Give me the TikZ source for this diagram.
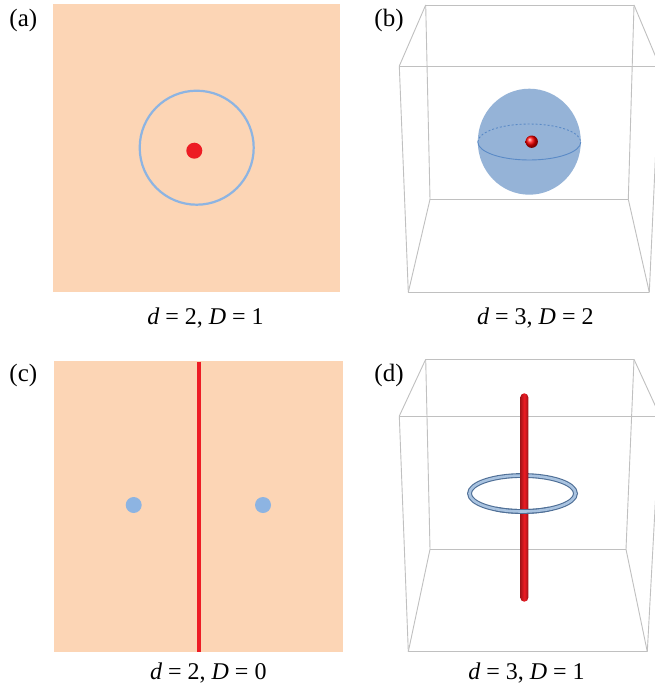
\documentclass[tikz,border=0pt]{standalone}
\usepackage{fontspec}
\setmainfont{Liberation Serif}
\usepackage{xcolor}
\usepackage{tikz}

\definecolor{peach}{HTML}{FCD5B5}
\definecolor{ringblue}{HTML}{8DB4E2}
\definecolor{sphereblue}{HTML}{95B3D7}
\definecolor{eqblue}{HTML}{5A8AC6}
\definecolor{dotred}{HTML}{ED1C24}
\definecolor{edgegray}{HTML}{C0C0C0}
\definecolor{ringdark}{HTML}{4F6F96}
\definecolor{ringlight}{HTML}{A9C3E0}

\begin{document}
\begin{tikzpicture}[x=1pt, y=-1pt,
  font=\fontsize{24}{28}\selectfont,
  tag/.style={anchor=base, inner sep=0pt, font=\fontsize{25}{29}\selectfont},
  captext/.style={anchor=base, inner sep=0pt},
  plane/.style={fill=peach},
  edge/.style={draw=edgegray, line width=0.9pt},
  tubeout/.style={draw=ringdark, line width=4.8pt},
  tubein/.style={draw=ringlight, line width=2.6pt}]
\clip (0,0) rectangle (655,685);
\fill[white] (0,0) rectangle (655,685);

% box corners: 1-4 back face, 5-8 front face
\path (425.7,5) coordinate (b1) (634,5) coordinate (b2)
      (628.3,199.3) coordinate (b3) (430,199.3) coordinate (b4)
      (399.3,66) coordinate (b5) (659.6,66) coordinate (b6)
      (649.3,292.3) coordinate (b7) (408.3,292.3) coordinate (b8);
\path (425.7,359.3) coordinate (d1) (634,359.3) coordinate (d2)
      (626,549.3) coordinate (d3) (430,549.3) coordinate (d4)
      (399.3,416) coordinate (d5) (660,416) coordinate (d6)
      (647.3,651.7) coordinate (d7) (408.3,651.7) coordinate (d8);
\foreach \p in {b,d}
  \foreach \u/\v in {1/2,2/3,3/4,4/1,5/6,6/7,7/8,8/5,1/5,2/6,3/7,4/8}
    \draw[edge] (\p\u) -- (\p\v);

% (a) plane with loop around a point
\fill[plane] (53.3,4.3) rectangle (340,291.7);
\draw[ringblue, line width=2.2pt] (196.7,147.7) circle (57);
\fill[dotred] (194.3,150.7) circle (8);
\node[tag] (taga) at (23.3,27) {(a)};
\node[captext] (capa) at (205.5,324) {\textit{d} = 2, \textit{D} = 1};

% (b) sphere around a point
\fill[sphereblue] (529.3,141.7) ellipse [x radius=51.5, y radius=53];
\draw[eqblue, line width=0.9pt] (580.8,142) arc[start angle=0, end angle=180, x radius=51.5, y radius=18];
\draw[eqblue, line width=0.9pt, dash pattern=on 2pt off 2pt] (477.8,142) arc[start angle=180, end angle=360, x radius=51.5, y radius=18];
\shade[ball color=red] (531.7,141.7) circle (6.2);
\node[tag] (tagb) at (389,27) {(b)};
\node[captext] (capb) at (535.3,324) {\textit{d} = 3, \textit{D} = 2};

% (c) plane cut by a line, two points
\fill[plane] (53.7,360.7) rectangle (342.7,651.7);
\draw[dotred, line width=4pt] (198.5,361.7) -- (198.5,651.7);
\fill[ringblue] (133.7,505) circle (8);
\fill[ringblue] (263,505) circle (8);
\node[tag] (tagc) at (23.3,381) {(c)};
\node[captext] (capc) at (208.3,679.3) {\textit{d} = 2, \textit{D} = 0};

% (d) ring around a rod
\draw[tubeout] (522.5,493.5) ellipse [x radius=53, y radius=18];
\draw[tubein] (522.5,493.5) ellipse [x radius=53, y radius=18];
\shade[left color=dotred!70!black, right color=dotred!65!black, middle color=dotred, rounded corners=4pt]
  (520.3,393.3) rectangle (528.3,601.7);
\draw[tubeout] (548.99,509.09) arc[start angle=60, end angle=120, x radius=53, y radius=18];
\draw[tubein] (548.99,509.09) arc[start angle=60, end angle=120, x radius=53, y radius=18];
\node[tag] (tagd) at (389,381) {(d)};
\node[captext] (capd) at (526.5,679.3) {\textit{d} = 3, \textit{D} = 1};
\end{tikzpicture}
\end{document}
